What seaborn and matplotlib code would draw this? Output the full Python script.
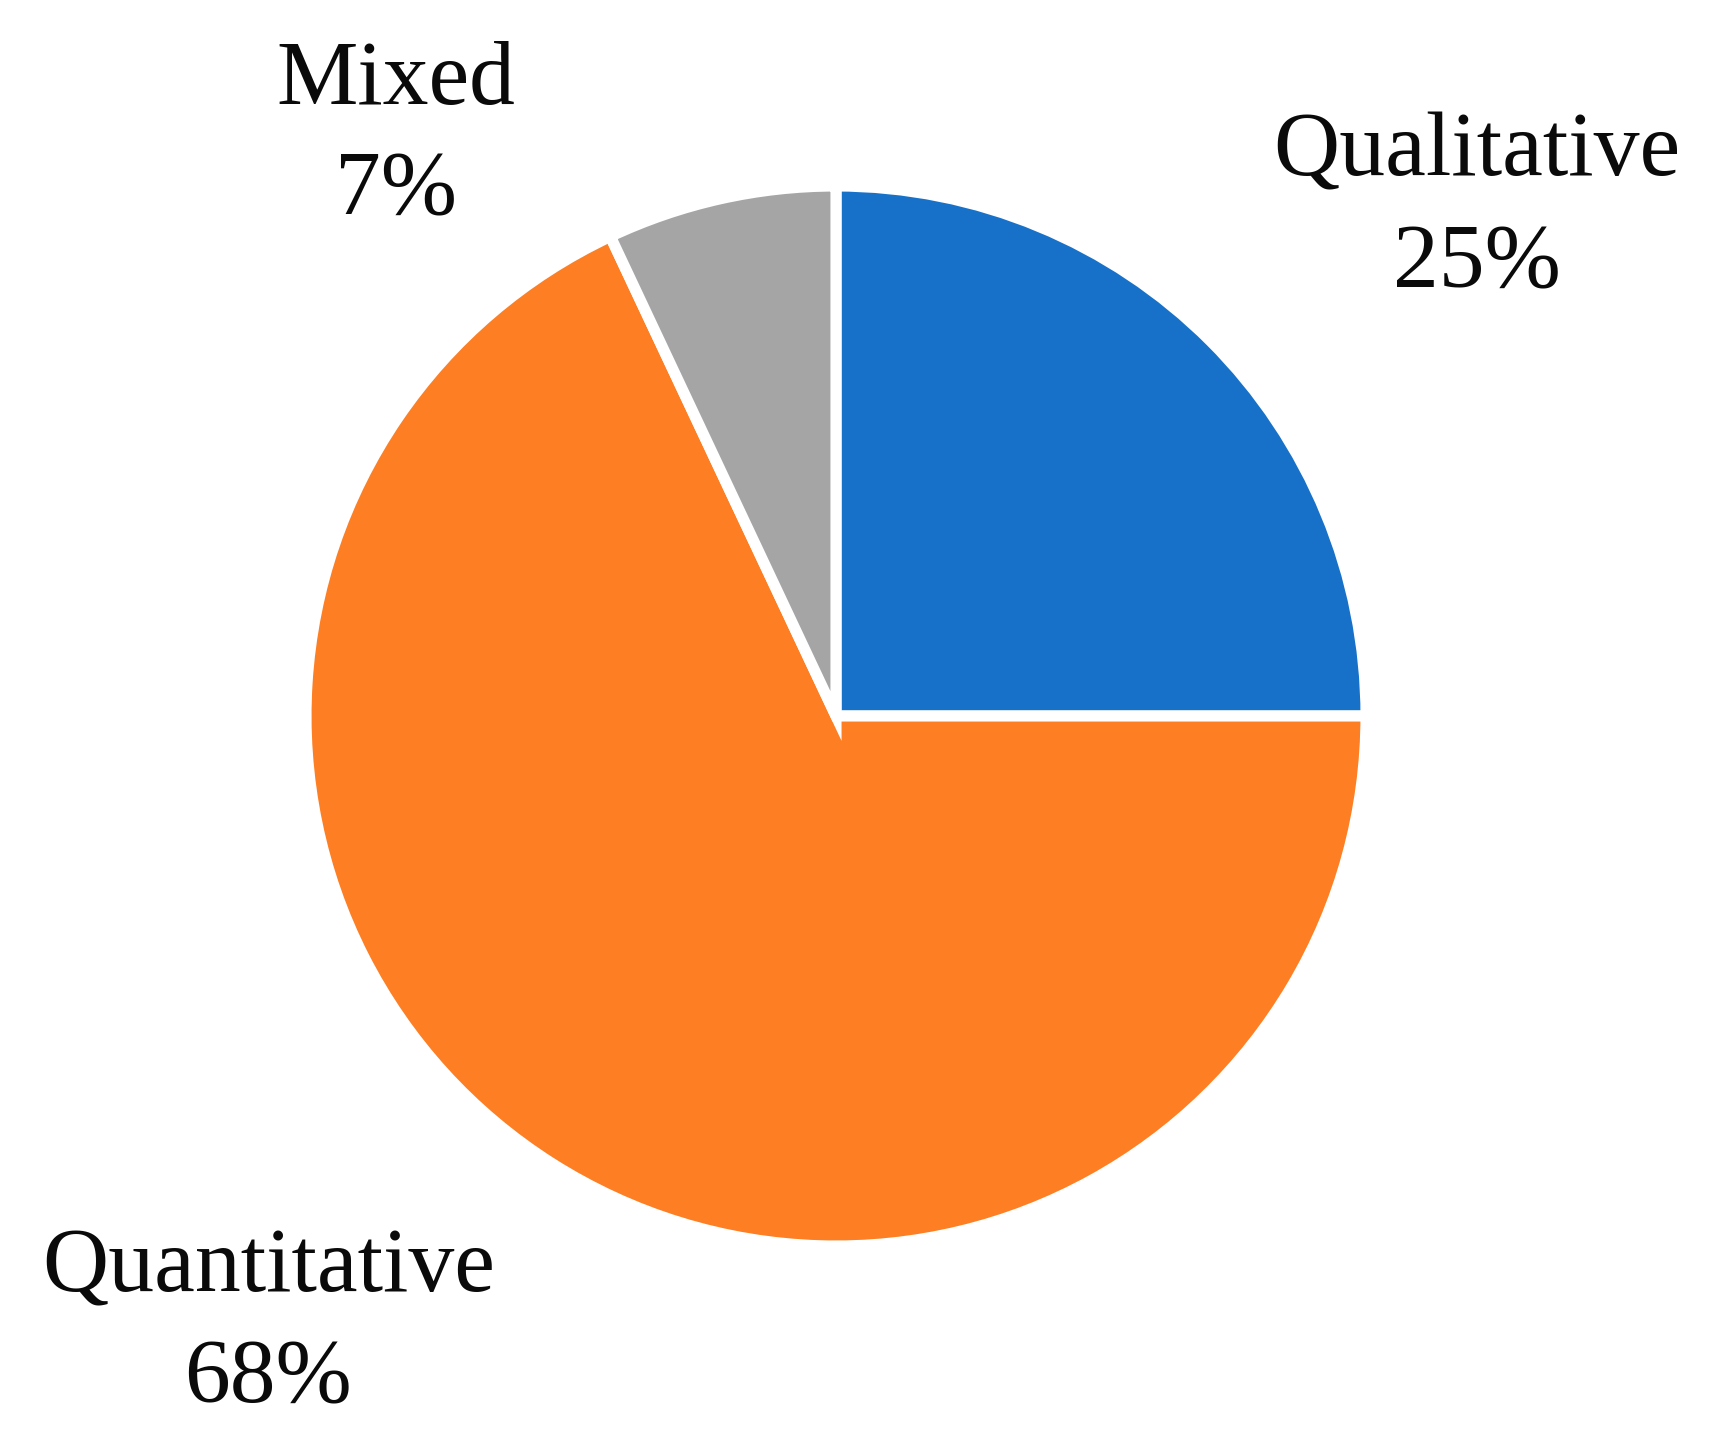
import matplotlib
matplotlib.use('Agg')
import matplotlib.pyplot as plt
import seaborn as sns

# Study design shares (%), clockwise from 12 o'clock
categories = ['Qualitative', 'Quantitative', 'Mixed']
shares = [25, 68, 7]
colors = ['#1871c8', '#fd7e23', '#a5a5a5']

# label anchor (x, y) in axes fraction
label_pos = {
    'Qualitative': (0.858, 0.855),
    'Quantitative': (0.156, 0.082),
    'Mixed': (0.230, 0.905),
}

sns.set_theme(style='white')
plt.rcParams['font.family'] = ['Liberation Serif', 'DejaVu Serif']

fig = plt.figure(figsize=(17.21, 14.43), dpi=100)
ax = fig.add_axes([0, 0, 1, 1])

palette = sns.color_palette(colors)
ax.pie(shares, colors=palette, startangle=90, counterclock=False,
       radius=1.0, center=(0, 0),
       wedgeprops=dict(edgecolor='white', linewidth=8))

# pie centre at (836, 716) px, radius 530 px
ax.set_xlim(-836 / 530, (1721 - 836) / 530)
ax.set_ylim(-(1443 - 716) / 530, 716 / 530)
ax.set_aspect('auto')
ax.axis('off')

for cat, val in zip(categories, shares):
    x, y = label_pos[cat]
    ax.text(x, y, f'{cat}\n{val}%', transform=ax.transAxes,
            ha='center', va='center', fontsize=66, linespacing=1.45,
            color='#0a0a0a')

fig.savefig('out.png', dpi=100, facecolor='white')
